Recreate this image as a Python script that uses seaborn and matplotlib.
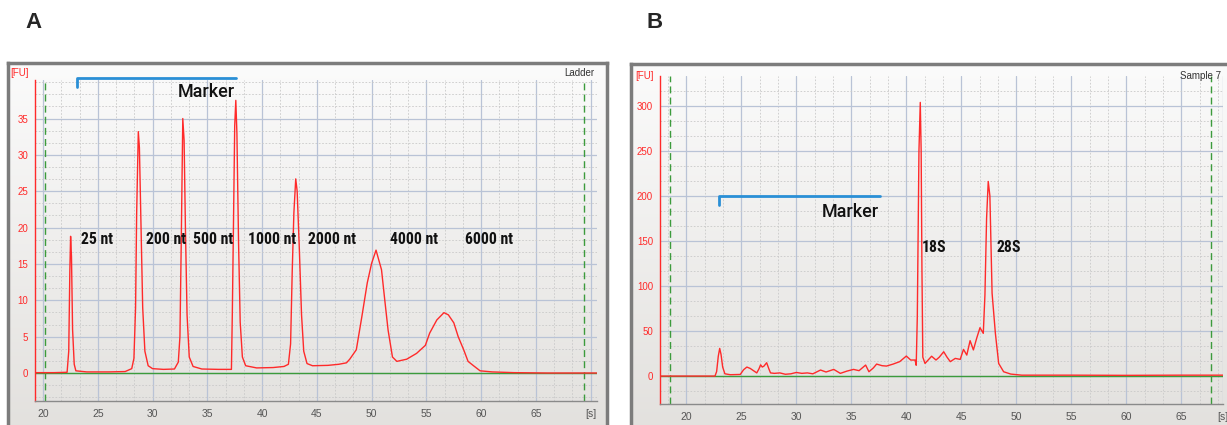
import numpy as np
import pandas as pd
import matplotlib
matplotlib.use('Agg')
import matplotlib.pyplot as plt
from matplotlib import font_manager
from matplotlib.ticker import MultipleLocator, FixedLocator
import seaborn as sns

sns.set_style('white')
plt.rcParams['font.family'] = ['Liberation Sans', 'DejaVu Sans']

# ---- data ----
ladder_time = [19.27, 21.0, 22.2, 22.35, 22.45, 22.52, 22.6, 22.7, 22.85, 23.0,
               24.0, 26.0, 27.5, 28.1, 28.3, 28.45, 28.55, 28.7, 28.8, 28.95,
               29.1, 29.3, 29.6, 30.0, 31.0, 32.0, 32.35, 32.5, 32.62, 32.76,
               32.88, 33.0, 33.15, 33.35, 33.7, 34.5, 36.0, 37.2, 37.28, 37.4,
               37.5, 37.6, 37.7, 37.85, 38.0, 38.2, 38.5, 39.5, 41.0, 42.0,
               42.4, 42.6, 42.75, 42.9, 43.07, 43.2, 43.4, 43.6, 43.8, 44.1,
               44.6, 46.0, 47.0, 47.7, 48.0, 48.6, 49.1, 49.6, 50.0, 50.4,
               50.9, 51.2, 51.5, 51.9, 52.3, 53.2, 54.1, 54.9, 55.3, 55.95,
               56.6, 57.0, 57.5, 57.9, 58.4, 58.8, 59.3, 59.9, 61.0, 63.0,
               66.0, 70.57]
ladder_fu = [0.05, 0.05, 0.1, 3, 14, 18.8, 16, 6, 1.2, 0.3,
             0.15, 0.15, 0.2, 0.6, 2, 9, 22, 33.2, 31, 20,
             9, 3, 1.0, 0.6, 0.5, 0.55, 1.5, 5, 18, 35.0,
             32, 20, 8, 2.2, 0.9, 0.55, 0.5, 0.5, 8, 22,
             34, 37.5, 33, 18, 7, 2.2, 1.0, 0.7, 0.75, 0.9,
             1.2, 4, 14, 22, 26.7, 25, 17, 8, 3, 1.3,
             1.0, 1.05, 1.2, 1.4, 1.9, 3.2, 7.7, 12.4, 15.1, 16.9,
             14.2, 10.0, 5.9, 2.2, 1.6, 1.9, 2.7, 3.8, 5.5, 7.3,
             8.3, 8.0, 6.9, 5.0, 3.2, 1.6, 1.0, 0.3, 0.15, 0.05,
             0.0, 0.0]

sample_time = [17.6, 19.5, 22.6, 22.75, 22.9, 23.03, 23.15, 23.3, 23.5, 24.0,
               24.9, 25.2, 25.5, 25.8, 26.1, 26.4, 26.6, 26.75, 26.9, 27.05,
               27.3, 27.5, 27.65, 28.0, 28.5, 29.0, 29.5, 30.0, 30.5, 31.0,
               31.5, 32.2, 32.7, 33.4, 34.0, 34.6, 35.2, 35.7, 36.3, 36.6,
               37.0, 37.3, 37.8, 38.2, 38.8, 39.4, 40.0, 40.4, 40.8, 40.9,
               41.0, 41.15, 41.27, 41.35, 41.42, 41.5, 41.7, 42.0, 42.3, 42.7,
               43.0, 43.4, 43.7, 44.0, 44.45, 44.9, 45.2, 45.5, 45.8, 46.1,
               46.4, 46.7, 47.0, 47.15, 47.3, 47.45, 47.6, 47.8, 48.1, 48.4,
               48.85, 49.5, 50.5, 55.0, 60.0, 65.0, 68.8]
sample_fu = [0, 0, 0, 5, 22, 30.7, 24, 10, 2.5, 1.5,
             1.8, 7, 10, 8.5, 6, 3.5, 8, 12.5, 10, 11,
             14.8, 8, 3.5, 3, 3.5, 2, 2.5, 4, 3, 3.5,
             2.5, 6.7, 4.5, 7.4, 3.0, 5.5, 7.4, 6, 12.2, 4.8,
             9, 13.3, 11.5, 11.1, 13.3, 16, 22.2, 17.8, 17.8, 12,
             66, 250, 303.7, 250, 120, 21, 14, 18, 22, 17.8,
             21, 27, 21, 16, 19.6, 18.5, 29.6, 23.3, 39.3, 29,
             42, 53.7, 47.4, 90, 175, 216, 200, 92, 47.4, 14,
             4.8, 2.2, 1, 1, 0.8, 1, 1]

ladder_labels = ['25 nt', '200 nt', '500 nt', '1000 nt', '2000 nt', '4000 nt', '6000 nt']
ladder_label_x = [23.5, 29.4, 33.7, 38.7, 44.2, 51.7, 58.5]
sample_labels = ['18S', '28S']
sample_label_x = [41.4, 48.2]

W, H = 1227, 425
fig = plt.figure(figsize=(W / 100, H / 100), dpi=100)
fig.patch.set_facecolor('white')

RED = '#ff2a2a'
GREEN = '#3c9b3c'
BLUE = '#2a8fd6'

# pick a condensed face for the peak labels if one is installed
installed = {f.name for f in font_manager.fontManager.ttflist}
condensed = [n for n in ['Liberation Sans Narrow', 'Roboto Condensed', 'Open Sans Condensed',
                         'Noto Sans Condensed', 'DejaVu Sans Condensed'] if n in installed]
if condensed:
    LABEL_FONT = dict(family=[condensed[0], 'DejaVu Sans'], fontsize=11.3, fontweight='bold')
else:
    LABEL_FONT = dict(family=['Roboto', 'Liberation Sans', 'DejaVu Sans'], fontsize=9.8,
                      fontweight='medium')
MARKER_FONT = dict(family=['Roboto', 'Liberation Sans', 'DejaVu Sans'], fontsize=13,
                   fontweight='medium')


def px_box(left, top, right, bottom):
    return [left / W, 1 - bottom / H, (right - left) / W, (bottom - top) / H]


def frame(left, top, right, bottom):
    bg = fig.add_axes(px_box(left, top, right, bottom))
    grad = np.linspace(0, 1, 256).reshape(-1, 1)
    bg.imshow(grad, cmap=matplotlib.colors.LinearSegmentedColormap.from_list(
        'g', ['#fbfbfb', '#e2e0dd']), aspect='auto', extent=[0, 1, 0, 1])
    bg.set_xticks([])
    bg.set_yticks([])
    for s in bg.spines.values():
        s.set_color('#7c7c7c')
        s.set_linewidth(2.5)


def style_axes(ax, xlim, ylim, ymajor, yticks, xticks, xlabels):
    ax.set_facecolor('none')
    ax.set_xlim(*xlim)
    ax.set_ylim(*ylim)
    ax.xaxis.set_major_locator(FixedLocator(xticks))
    ax.set_xticklabels(xlabels)
    ax.xaxis.set_minor_locator(MultipleLocator(5 / 3))
    ax.yaxis.set_major_locator(FixedLocator(yticks))
    ax.yaxis.set_minor_locator(MultipleLocator(ymajor / 3))
    ax.grid(which='major', color='#b9c3d6', lw=0.9, ls='-')
    ax.grid(which='minor', color='#c9c9c9', lw=0.6, ls=(0, (2, 2)))
    ax.set_axisbelow(True)
    for s in ['top', 'right']:
        ax.spines[s].set_visible(False)
    ax.spines['left'].set_color(RED)
    ax.spines['left'].set_linewidth(1.0)
    ax.spines['bottom'].set_color('#8a8a8a')
    ax.spines['bottom'].set_linewidth(1.0)
    ax.tick_params(axis='y', which='major', colors=RED, labelsize=7, length=4,
                   width=0.8, direction='out', pad=1)
    ax.tick_params(axis='x', which='major', colors='#8a8a8a', labelcolor='#555555',
                   labelsize=7.5, length=4, width=0.8, direction='out', pad=2)
    ax.tick_params(which='minor', length=0)
    ax.set_xlabel('')
    ax.set_ylabel('')


# ---- panel A ----
frame(8, 63, 607, 440)
axA = fig.add_axes(px_box(35, 80, 597, 401))
sns.lineplot(x=ladder_time, y=ladder_fu, ax=axA, color=RED, lw=1.0, zorder=3)
style_axes(axA, (19.27, 70.57), (-3.85, 40.3), 5, [0, 5, 10, 15, 20, 25, 30, 35],
           [20, 25, 30, 35, 40, 45, 50, 55, 60, 65, 70],
           ['20', '25', '30', '35', '40', '45', '50', '55', '60', '65', '[s]'])
axA.plot([19.27, 70.57], [0, 0], color=GREEN, lw=1.0, zorder=2)
for xv in [20.2, 69.4]:
    axA.axvline(xv, color=GREEN, lw=1.0, ls=(0, (5, 3)), zorder=2)
axA.plot([23.1, 23.1, 37.6], [39.3, 40.6, 40.6], color=BLUE, lw=2, clip_on=False, zorder=4)
axA.text(37.55, 38.6, 'Marker', ha='right', va='center', color='#111111', **MARKER_FONT)
for lab, xv in zip(ladder_labels, ladder_label_x):
    axA.text(xv, 18.3, lab, ha='left', va='center', color='#111111', **LABEL_FONT)
axA.text(-0.027, 1.022, '[FU]', transform=axA.transAxes, color=RED, fontsize=7, ha='center', va='center')
axA.text(0.995, 1.022, 'Ladder', transform=axA.transAxes, color='#333333', fontsize=7, ha='right', va='center')

# ---- panel B ----
frame(631, 64, 1240, 440)
axB = fig.add_axes(px_box(660, 76, 1223, 404))
sns.lineplot(x=sample_time, y=sample_fu, ax=axB, color=RED, lw=1.0, zorder=3)
style_axes(axB, (17.6, 68.8), (-31, 333), 50, [0, 50, 100, 150, 200, 250, 300],
           [20, 25, 30, 35, 40, 45, 50, 55, 60, 65, 68.8],
           ['20', '25', '30', '35', '40', '45', '50', '55', '60', '65', '[s]'])
axB.plot([17.6, 68.8], [0, 0], color=GREEN, lw=1.0, zorder=2)
for xv in [18.5, 67.7]:
    axB.axvline(xv, color=GREEN, lw=1.0, ls=(0, (5, 3)), zorder=2)
axB.plot([23.0, 23.0, 37.6], [190, 200, 200], color=BLUE, lw=2, zorder=4)
axB.text(37.5, 182, 'Marker', ha='right', va='center', color='#111111', **MARKER_FONT)
for lab, xv in zip(sample_labels, sample_label_x):
    axB.text(xv, 143, lab, ha='left', va='center', color='#111111', **LABEL_FONT)
axB.text(-0.027, 1.0, '[FU]', transform=axB.transAxes, color=RED, fontsize=7, ha='center', va='center')
axB.text(0.997, 1.0, 'Sample 7', transform=axB.transAxes, color='#333333', fontsize=7, ha='right', va='center')

# panel letters
fig.text(33 / W, 1 - 22 / H, 'A', fontsize=16, fontweight='bold', ha='center', va='center')
fig.text(655 / W, 1 - 22 / H, 'B', fontsize=16, fontweight='bold', ha='center', va='center')

fig.savefig('out.png', dpi=100)
